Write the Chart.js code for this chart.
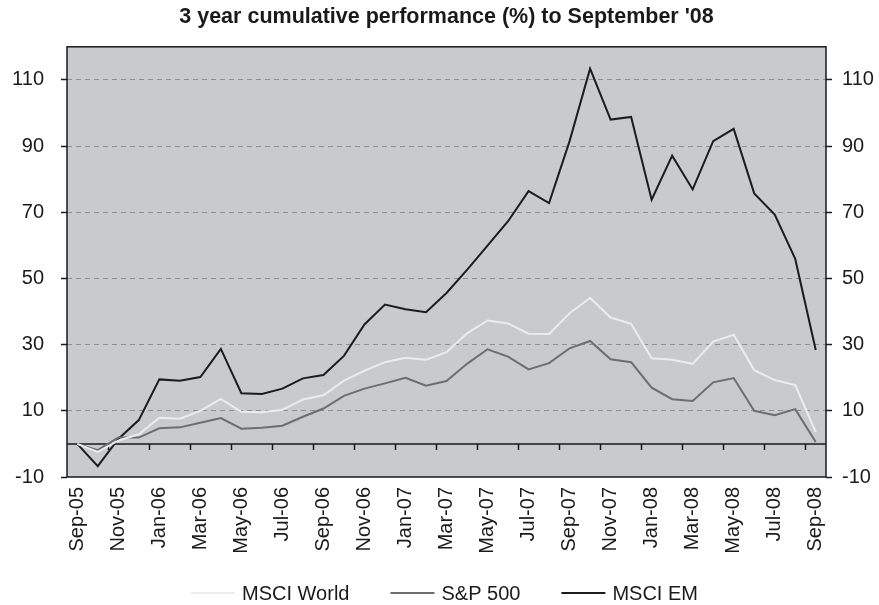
<!DOCTYPE html>
<html>
<head>
<meta charset="utf-8">
<script src="https://cdn.jsdelivr.net/npm/chart.js@4/dist/chart.umd.min.js"></script>
<style>
  html, body { margin: 0; padding: 0; background: #ffffff; }
  #wrap { width: 879px; height: 605px; }
</style>
</head>
<body>
<div id="wrap"><canvas id="perfChart"></canvas></div>
<script>
// Monthly categories, Sep-05 .. Sep-08
const months = [
  "Sep-05", "Oct-05", "Nov-05", "Dec-05", "Jan-06", "Feb-06", "Mar-06", "Apr-06",
  "May-06", "Jun-06", "Jul-06", "Aug-06", "Sep-06", "Oct-06", "Nov-06", "Dec-06",
  "Jan-07", "Feb-07", "Mar-07", "Apr-07", "May-07", "Jun-07", "Jul-07", "Aug-07",
  "Sep-07", "Oct-07", "Nov-07", "Dec-07", "Jan-08", "Feb-08", "Mar-08", "Apr-08",
  "May-08", "Jun-08", "Jul-08", "Aug-08", "Sep-08"
];

const msciWorld = [
  0, -2.4, 1.0, 2.9, 7.9, 7.6, 10.0, 13.6, 9.7, 9.6, 10.3, 13.4, 14.7,
  19.1, 22.1, 24.7, 26.0, 25.4, 27.7, 33.4, 37.3, 36.4, 33.3, 33.2,
  39.5, 44.1, 38.2, 36.3, 25.9, 25.4, 24.2, 30.9, 33.0, 22.3, 19.3, 17.8, 3.6
];

const sp500 = [
  0, -1.9, 1.9, 1.9, 4.7, 5.0, 6.4, 7.8, 4.6, 4.9, 5.5, 8.2, 10.7,
  14.5, 16.7, 18.3, 20.0, 17.6, 19.0, 24.2, 28.6, 26.4, 22.5, 24.4,
  28.9, 31.1, 25.6, 24.7, 17.0, 13.5, 13.0, 18.6, 19.9, 10.0, 8.7, 10.5, 0.6
];

const msciEM = [
  0, -6.7, 1.5, 7.2, 19.5, 19.1, 20.2, 28.7, 15.3, 15.1, 16.7, 19.8, 20.8,
  26.6, 36.1, 42.1, 40.7, 39.8, 45.6, 52.6, 59.9, 67.3, 76.4, 72.8,
  91.5, 113.4, 98.0, 98.8, 73.8, 87.1, 76.9, 91.5, 95.2, 75.7, 69.3, 55.9, 28.4
];

const yTicks = [-10, 10, 30, 50, 70, 90, 110];
const yMin = -10;
const yMax = 120;

const FONT = "'Liberation Sans', Arial, sans-serif";
const TEXT = "#1a1a1a";

// grey plot background + black frame
const plotFrame = {
  id: "plotFrame",
  beforeDraw(chart) {
    const a = chart.chartArea;
    const ctx = chart.ctx;
    ctx.save();
    ctx.fillStyle = "#c9cacc";
    ctx.fillRect(a.left, a.top, a.right - a.left, a.bottom - a.top);
    ctx.restore();
  },
  afterDraw(chart) {
    const a = chart.chartArea;
    const ctx = chart.ctx;
    ctx.save();
    ctx.strokeStyle = "#1a1a1a";
    ctx.lineWidth = 1.5;
    ctx.strokeRect(a.left, a.top, a.right - a.left, a.bottom - a.top);
    ctx.restore();
  }
};

// horizontal axis crossing at 0, with tick marks every two months
const zeroAxis = {
  id: "zeroAxis",
  beforeDatasetsDraw(chart) {
    const a = chart.chartArea;
    const x = chart.scales.x;
    const y0 = chart.scales.y.getPixelForValue(0);
    const ctx = chart.ctx;
    ctx.save();
    ctx.strokeStyle = "#1a1a1a";
    ctx.lineWidth = 1.5;
    ctx.beginPath();
    ctx.moveTo(a.left, y0);
    ctx.lineTo(a.right, y0);
    for (let k = 2; k < months.length; k += 2) {
      const px = Math.round(x.getPixelForValue(k - 0.5)) + 0.5;
      ctx.moveTo(px, y0);
      ctx.lineTo(px, y0 + 6);
    }
    ctx.stroke();
    ctx.restore();
  }
};

// legend row under the chart: short line sample, then the series name
const lineLegend = {
  id: "lineLegend",
  afterDraw(chart) {
    const ctx = chart.ctx;
    const sets = chart.data.datasets;
    const sample = 44, gapText = 7, gapItem = 41;
    ctx.save();
    ctx.font = "20px " + FONT;
    ctx.textBaseline = "middle";
    ctx.textAlign = "left";
    const widths = sets.map(d => ctx.measureText(d.label).width);
    let total = 0;
    widths.forEach((w, i) => { total += sample + gapText + w + (i ? gapItem : 0); });
    const a = chart.chartArea;
    let x = (a.left + a.right) / 2 - 2 - total / 2;
    const y = 593;
    sets.forEach((d, i) => {
      ctx.strokeStyle = d.borderColor;
      ctx.lineWidth = 2;
      ctx.beginPath();
      ctx.moveTo(x, y);
      ctx.lineTo(x + sample, y);
      ctx.stroke();
      ctx.fillStyle = TEXT;
      ctx.fillText(d.label, x + sample + gapText, y + 1);
      x += sample + gapText + widths[i] + gapItem;
    });
    ctx.restore();
  }
};

function setTicks(scale) {
  scale.ticks = yTicks.map(v => ({ value: v }));
}

const ctx = document.getElementById("perfChart").getContext("2d");
new Chart(ctx, {
  type: "line",
  data: {
    labels: months,
    datasets: [
      {
        label: "MSCI World",
        data: msciWorld,
        borderColor: "#ececec",
        backgroundColor: "#ececec",
        borderWidth: 2,
        pointRadius: 0,
        tension: 0,
        yAxisID: "y"
      },
      {
        label: "S&P 500",
        data: sp500,
        borderColor: "#6e6e6e",
        backgroundColor: "#6e6e6e",
        borderWidth: 2,
        pointRadius: 0,
        tension: 0,
        yAxisID: "y"
      },
      {
        label: "MSCI EM",
        data: msciEM,
        borderColor: "#1c1c1c",
        backgroundColor: "#1c1c1c",
        borderWidth: 2,
        pointRadius: 0,
        tension: 0,
        yAxisID: "y"
      }
    ]
  },
  options: {
    responsive: true,
    maintainAspectRatio: false,
    animation: false,
    layout: { padding: { top: 0, left: 0, right: 0, bottom: 46 } },
    plugins: {
      title: {
        display: true,
        text: "3 year cumulative performance (%) to September '08",
        color: TEXT,
        fullSize: false,
        font: { family: FONT, size: 21.5, weight: "bold" },
        padding: { top: 4, bottom: 17 }
      },
      legend: { display: false },
      tooltip: { enabled: false }
    },
    scales: {
      x: {
        offset: true,
        grid: { display: false, drawTicks: false },
        border: { display: false },
        ticks: {
          autoSkip: false,
          maxRotation: 90,
          minRotation: 90,
          padding: 10,
          color: TEXT,
          font: { family: FONT, size: 20 },
          callback: function (value, index) {
            return index % 2 === 0 ? this.getLabelForValue(value) : "";
          }
        },
        afterFit(scale) { scale.height = 82; }
      },
      y: {
        position: "left",
        min: yMin,
        max: yMax,
        afterBuildTicks: setTicks,
        afterFit(scale) { scale.width = 67; },
        grid: {
          color: ctx => (ctx.tick && ctx.tick.value === yMin ? "rgba(0,0,0,0)" : "#8f8f8f"),
          lineWidth: 1,
          drawTicks: true,
          tickLength: 6,
          tickColor: "#1a1a1a",
          tickWidth: 1.5,
          tickBorderDash: []
        },
        border: { display: false, dash: [5, 4] },
        ticks: {
          padding: 17,
          color: TEXT,
          font: { family: FONT, size: 20 }
        }
      },
      y2: {
        position: "right",
        min: yMin,
        max: yMax,
        afterBuildTicks: setTicks,
        afterFit(scale) { scale.width = 53; },
        grid: {
          drawOnChartArea: false,
          drawTicks: true,
          tickLength: 6,
          tickColor: "#1a1a1a",
          tickWidth: 1.5
        },
        border: { display: false },
        ticks: {
          padding: 10,
          color: TEXT,
          font: { family: FONT, size: 20 }
        }
      }
    }
  },
  plugins: [plotFrame, zeroAxis, lineLegend]
});
</script>
</body>
</html>
